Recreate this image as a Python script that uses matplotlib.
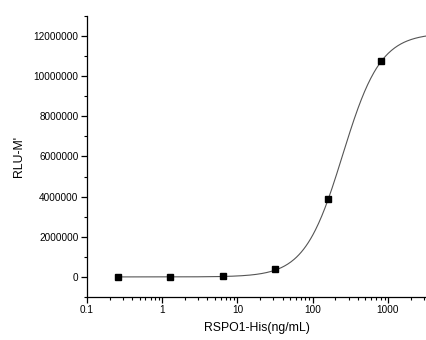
import numpy as np
import matplotlib
matplotlib.use("Agg")
import matplotlib.pyplot as plt
from matplotlib.ticker import FixedLocator, MultipleLocator, LogLocator, NullFormatter

plt.rcParams['font.family'] = ['Liberation Sans', 'DejaVu Sans']

# data
conc = [0.256, 1.28, 6.4, 32, 160, 800]
rlu = [10000, 20000, 60000, 370000, 3870000, 10750000]

# 4PL fit parameters (bottom, top, EC50, hill)
fit_bottom = 0
fit_top = 12150000
fit_ec50 = 250
fit_hill = 1.72

x_ticks = [0.1, 1, 10, 100, 1000]
x_labels = ["0.1", "1", "10", "100", "1000"]
y_ticks = [0, 2000000, 4000000, 6000000, 8000000, 10000000, 12000000]
y_labels = [str(v) for v in y_ticks]

fig = plt.figure(figsize=(4.26, 3.40), dpi=100)
ax = fig.add_axes([0.204, 0.1265, 0.796, 0.8265])

xs = np.logspace(np.log10(conc[0]), np.log10(4000), 400)
ys = fit_bottom + (fit_top - fit_bottom) / (1 + (fit_ec50 / xs) ** fit_hill)
ax.plot(xs, ys, color='#555555', lw=0.8, zorder=2)
ax.plot(conc, rlu, ls='none', marker='s', ms=4.0, color='black', zorder=3)

ax.set_xscale('log')
ax.set_xlim(0.1, 3200)
ax.set_ylim(-1000000, 13000000)
ax.xaxis.set_major_locator(FixedLocator(x_ticks))
ax.set_xticklabels(x_labels)
ax.xaxis.set_minor_locator(LogLocator(base=10, subs=np.arange(2, 10)))
ax.xaxis.set_minor_formatter(NullFormatter())
ax.yaxis.set_major_locator(FixedLocator(y_ticks))
ax.set_yticklabels(y_labels)
ax.yaxis.set_minor_locator(MultipleLocator(1000000))

for s in ['top', 'right']:
    ax.spines[s].set_visible(False)
for s in ['left', 'bottom']:
    ax.spines[s].set_linewidth(0.9)

ax.tick_params(which='major', direction='out', length=4, width=0.9, labelsize=7.2, pad=2)
ax.tick_params(which='minor', direction='out', length=2.2, width=0.8)

ax.set_xlabel("RSPO1-His(ng/mL)", fontsize=8.8, labelpad=5)
ax.set_ylabel("RLU-M'", fontsize=8.8, labelpad=6)

fig.savefig("out.png", dpi=100)
